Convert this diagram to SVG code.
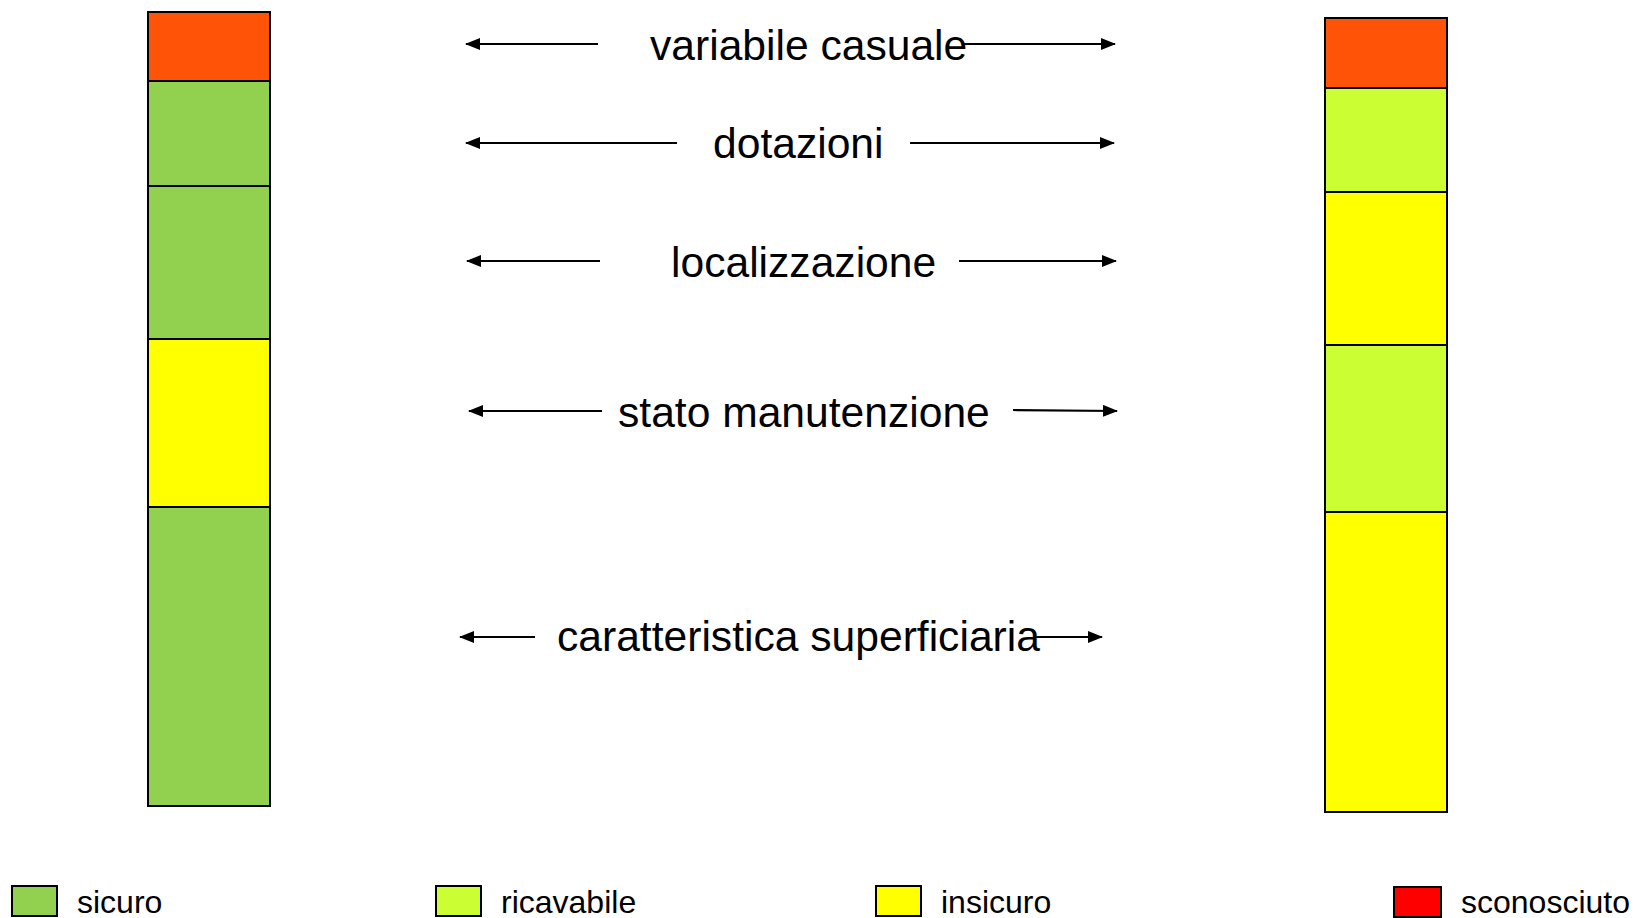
<svg xmlns="http://www.w3.org/2000/svg" width="1636" height="918" viewBox="0 0 1636 918">
<style>
.seg{stroke:#000;stroke-width:2}
.or{fill:#FF5308}.gr{fill:#92D050}.lg{fill:#CCFF33}.ye{fill:#FFFF00}.re{fill:#FF0000}
.lbl{font-family:"Liberation Sans",Arial,sans-serif;font-size:42.6px;fill:#000}
.leg{font-family:"Liberation Sans",Arial,sans-serif;font-size:32px;fill:#000}
.ar{stroke:#000;stroke-width:2.2;fill:none;marker-end:url(#ah)}
</style>
<defs>
<marker id="ah" viewBox="0 0 15 12" refX="14" refY="6" markerWidth="15" markerHeight="12" markerUnits="userSpaceOnUse" orient="auto">
<path d="M0,0 L15,6 L0,12 Z" fill="#000"/>
</marker>
</defs>
<rect width="1636" height="918" fill="#fff"/>
<g id="bar-left">
<rect class="seg or" x="148" y="12" width="122" height="69"/>
<rect class="seg gr" x="148" y="81" width="122" height="105"/>
<rect class="seg gr" x="148" y="186" width="122" height="153"/>
<rect class="seg ye" x="148" y="339" width="122" height="168"/>
<rect class="seg gr" x="148" y="507" width="122" height="299"/>
</g>
<g id="bar-right">
<rect class="seg or" x="1325" y="18" width="122" height="70"/>
<rect class="seg lg" x="1325" y="88" width="122" height="104"/>
<rect class="seg ye" x="1325" y="192" width="122" height="153"/>
<rect class="seg lg" x="1325" y="345" width="122" height="167"/>
<rect class="seg ye" x="1325" y="512" width="122" height="300"/>
</g>
<g id="labels">
<text class="lbl" x="650" y="60">variabile casuale</text>
<text class="lbl" x="713" y="158">dotazioni</text>
<text class="lbl" x="671" y="277">localizzazione</text>
<text class="lbl" x="618" y="427">stato manutenzione</text>
<text class="lbl" x="557" y="651">caratteristica superficiaria</text>
</g>
<g id="connectors">
<line class="ar" x1="598" y1="44" x2="466" y2="44"/>
<line class="ar" x1="962" y1="44" x2="1115" y2="44"/>
<line class="ar" x1="677" y1="143" x2="466" y2="143"/>
<line class="ar" x1="910" y1="143" x2="1114" y2="143"/>
<line class="ar" x1="600" y1="261" x2="467" y2="261"/>
<line class="ar" x1="959" y1="261" x2="1116" y2="261"/>
<line class="ar" x1="602" y1="411" x2="469" y2="411"/>
<line class="ar" x1="1013" y1="410" x2="1117" y2="411"/>
<line class="ar" x1="535" y1="637" x2="460" y2="637"/>
<line class="ar" x1="1035" y1="637" x2="1102" y2="637"/>
</g>
<g id="legend">
<rect class="seg gr" x="12" y="886" width="45" height="30"/>
<text class="leg" x="77" y="913">sicuro</text>
<rect class="seg lg" x="436" y="886" width="45" height="30"/>
<text class="leg" x="501" y="913">ricavabile</text>
<rect class="seg ye" x="876" y="886" width="45" height="30"/>
<text class="leg" x="941" y="913">insicuro</text>
<rect class="seg re" x="1394" y="887" width="47" height="30"/>
<text class="leg" x="1461" y="913">sconosciuto</text>
</g>
</svg>
